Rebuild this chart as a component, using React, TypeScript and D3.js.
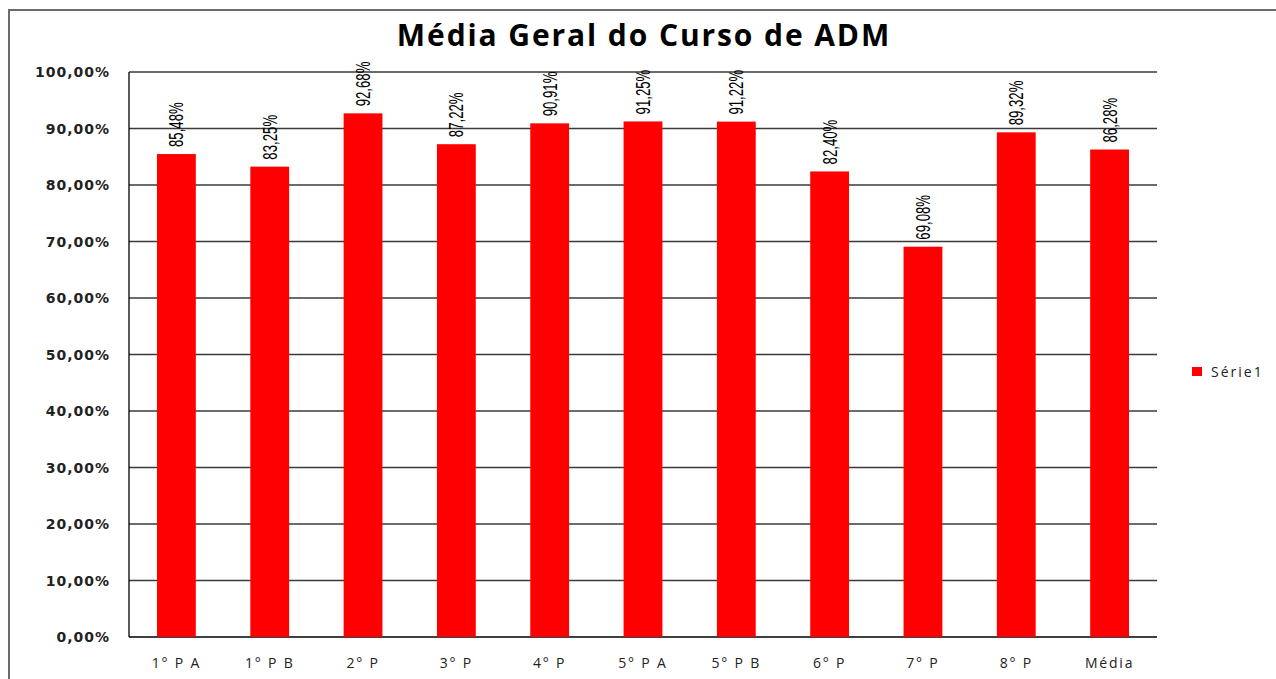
import React, { useRef, useEffect } from "react";
import * as d3 from "d3";

const categories = ["1° P A", "1° P B", "2° P", "3° P", "4° P", "5° P A", "5° P B", "6° P", "7° P", "8° P", "Média"];
const values = [85.48, 83.25, 92.68, 87.22, 90.91, 91.25, 91.22, 82.4, 69.08, 89.32, 86.28];
const yTicks = [0, 10, 20, 30, 40, 50, 60, 70, 80, 90, 100];
const seriesName = "Série1";
const title = "Média Geral do Curso de ADM";

const fmt = (v: number) => v.toFixed(2).replace(".", ",") + "%";

const App: React.FC = () => {
  const ref = useRef<SVGSVGElement | null>(null);

  useEffect(() => {
    if (!ref.current) return;
    const svg = d3.select(ref.current);
    svg.selectAll("*").remove();

    const width = 1276;
    const height = 679;
    const plot = { left: 129, right: 1157, top: 72, bottom: 637 };

    // chart frame
    svg
      .append("path")
      .attr("d", `M9,${height} L9,10 L${width},10`)
      .attr("fill", "none")
      .attr("stroke", "#6b6b6b")
      .attr("stroke-width", 2);

    const x = d3
      .scaleBand()
      .domain(categories)
      .range([plot.left, plot.right])
      .paddingInner(0.584)
      .paddingOuter(0.3);

    const y = d3.scaleLinear().domain([0, 100]).range([plot.bottom, plot.top]);

    // gridlines
    svg
      .append("g")
      .selectAll("line")
      .data(yTicks)
      .enter()
      .append("line")
      .attr("x1", plot.left)
      .attr("x2", plot.right)
      .attr("y1", (d) => y(d))
      .attr("y2", (d) => y(d))
      .attr("stroke", (d) => (d === 0 ? "#000" : "#3a3a3a"))
      .attr("stroke-width", 1.3);

    // y axis line
    svg
      .append("line")
      .attr("x1", plot.left)
      .attr("x2", plot.left)
      .attr("y1", plot.top)
      .attr("y2", plot.bottom)
      .attr("stroke", "#000")
      .attr("stroke-width", 1.3);

    // y tick labels
    svg
      .append("g")
      .selectAll("text")
      .data(yTicks)
      .enter()
      .append("text")
      .attr("x", 110)
      .attr("y", (d) => y(d) + 5)
      .attr("text-anchor", "end")
      .style("font-family", "'DejaVu Sans', Verdana, sans-serif")
      .style("font-size", "14px")
      .style("font-weight", "bold")
      .style("letter-spacing", "1px")
      .style("fill", "#222")
      .text((d) => fmt(d));

    // bars
    svg
      .append("g")
      .selectAll("rect")
      .data(values)
      .enter()
      .append("rect")
      .attr("x", (d, i) => x(categories[i])!)
      .attr("y", (d) => y(d))
      .attr("width", x.bandwidth())
      .attr("height", (d) => y(0) - y(d))
      .attr("fill", "#ff0000");

    // value labels (rotated, condensed)
    svg
      .append("g")
      .selectAll("text")
      .data(values)
      .enter()
      .append("text")
      .attr("transform", (d, i) => {
        const cx = x(categories[i])! + x.bandwidth() / 2 + 7;
        return `translate(${cx},${y(d) - 7}) rotate(-90) scale(0.66,1)`;
      })
      .attr("text-anchor", "start")
      .style("font-family", "'Liberation Sans', Arial, sans-serif")
      .style("font-size", "20px")
      .style("fill", "#000")
      .text((d) => fmt(d));

    // x labels
    svg
      .append("g")
      .selectAll("text")
      .data(categories)
      .enter()
      .append("text")
      .attr("x", (d) => x(d)! + x.bandwidth() / 2)
      .attr("y", 668)
      .attr("text-anchor", "middle")
      .style("font-family", "'Open Sans', sans-serif")
      .style("font-size", "14px")
      .style("letter-spacing", "1.8px")
      .style("fill", "#222")
      .text((d) => d);

    // title
    svg
      .append("text")
      .attr("x", 644)
      .attr("y", 46)
      .attr("text-anchor", "middle")
      .style("font-family", "'Open Sans', sans-serif")
      .style("font-size", "30px")
      .style("font-weight", "bold")
      .style("letter-spacing", "1.9px")
      .style("fill", "#000")
      .text(title);

    // legend
    const legend = svg.append("g").attr("transform", "translate(1192,367)");
    legend.append("rect").attr("width", 10).attr("height", 9).attr("fill", "#ff0000");
    legend
      .append("text")
      .attr("x", 19)
      .attr("y", 10)
      .style("font-family", "'Open Sans', sans-serif")
      .style("font-size", "14px")
      .style("letter-spacing", "2px")
      .style("fill", "#222")
      .text(seriesName);
  }, []);

  return (
    <svg
      ref={ref}
      width={1276}
      height={679}
      style={{ position: "absolute", left: 0, top: 0, background: "#fff" }}
    />
  );
};

export default App;
